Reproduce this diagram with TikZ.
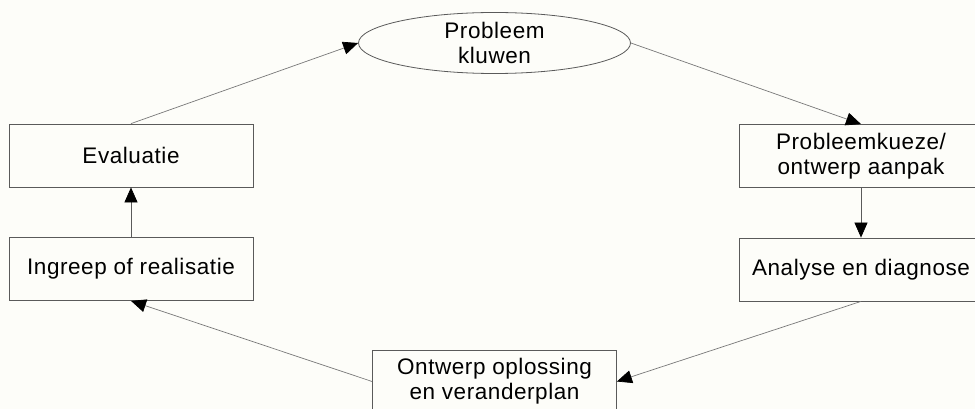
\documentclass[tikz,border=0pt]{standalone}
\usepackage{fontspec}
\setmainfont{Liberation Sans}[LetterSpace=2.5]
\usetikzlibrary{arrows.meta,shapes.geometric}
\definecolor{paper}{RGB}{253,253,249}
\definecolor{boxline}{RGB}{90,90,90}
\definecolor{linkline}{RGB}{120,120,120}
\begin{document}
\begin{tikzpicture}[x=1pt,y=-1pt,
  label font/.style={font=\fontsize{22.5}{25}\selectfont},
  stage/.style={draw=boxline, line width=0.8pt, minimum width=244pt,
    minimum height=63pt, inner sep=0pt, align=center, label font},
  issue/.style={ellipse, draw=boxline, line width=0.8pt, minimum width=272pt,
    minimum height=61pt, inner sep=0pt, align=center, label font},
  link/.style={draw=linkline, line width=0.7pt,
    -{Triangle[length=15pt,width=13pt,color=black,fill=black]}}]
  % page and visible area
  \fill[paper] (0,0) rectangle (975,409);
  \useasboundingbox (0,0) rectangle (975,409);
  \clip (0,0) rectangle (975,409);

  % the cycle of stages
  \node[issue] (kluwen) at (494.5,43) {Probleem\\kluwen};
  \node[stage] (keuze) at (861,156) {Probleemkueze/\\ontwerp aanpak};
  \node[stage] (analyse) at (861,269.5) {Analyse en diagnose};
  \node[stage] (ontwerp) at (494.5,381.5) {Ontwerp oplossing\\en veranderplan};
  \node[stage] (ingreep) at (131,269) {Ingreep of realisatie};
  \node[stage] (evaluatie) at (131,155.5) {Evaluatie};

  % connectors around the cycle
  \draw[link] (kluwen.east) -- (keuze.north);
  \draw[link, draw=boxline] (keuze.south) -- (analyse.north);
  \draw[link] (analyse.south) -- (ontwerp.east);
  \draw[link] (ontwerp.west) -- (ingreep.south);
  \draw[link, draw=boxline] (ingreep.north) -- (evaluatie.south);
  \draw[link] (evaluatie.north) -- (kluwen.west);
\end{tikzpicture}
\end{document}
